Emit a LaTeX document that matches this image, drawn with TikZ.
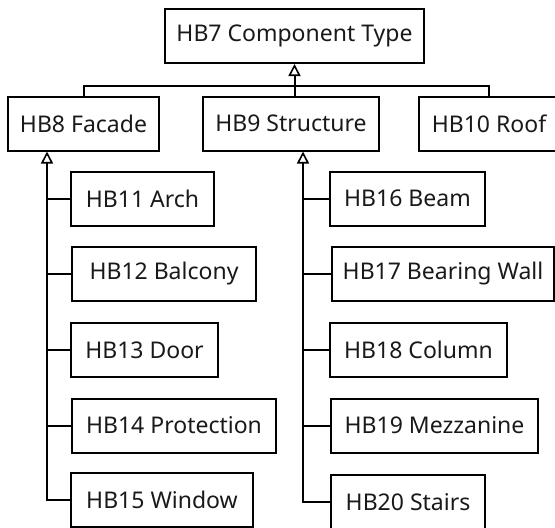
\documentclass[tikz,border=0pt]{standalone}
\usepackage{fontspec}
\setmainfont{Noto Sans}
\usetikzlibrary{arrows.meta}

\begin{document}
\begin{tikzpicture}[x=1pt,y=-1pt,
  cls/.style={draw, line width=2pt, minimum height=54pt, inner sep=0pt, text=black!90, font=\fontsize{23}{27}\selectfont},
  link/.style={line width=2pt},
  gen/.style={line width=2pt, -{Triangle[open,length=12pt,width=12pt,line width=1.6pt]}}]
\useasboundingbox (0,0) rectangle (555,528);
\clip (0,0) rectangle (555,528);
\node[cls, minimum width=259pt] (type) at (294.5,36) {HB7 Component Type};
\node[cls, minimum width=151pt] (facade) at (83.5,123.5) {HB8 Facade};
\node[cls, minimum width=176pt] (structure) at (291,123.5) {HB9 Structure};
\node[cls, minimum width=140pt] (roof) at (489,123.5) {HB10 Roof};
\node[cls, anchor=west, minimum width=143pt] (arch) at (70,199) {HB11 Arch};
\node[cls, anchor=west, minimum width=184pt] (balcony) at (71,274) {HB12 Balcony};
\node[cls, anchor=west, minimum width=147pt] (door) at (70,350) {HB13 Door};
\node[cls, anchor=west, minimum width=204pt] (protection) at (71,425.5) {HB14 Protection};
\node[cls, anchor=west, minimum width=182pt] (window) at (70,500) {HB15 Window};
\node[cls, anchor=west, minimum width=155pt] (beam) at (329,198.5) {HB16 Beam};
\node[cls, anchor=west, minimum width=222pt] (wall) at (331,274) {HB17 Bearing Wall};
\node[cls, anchor=west, minimum width=177pt] (column) at (329,350) {HB18 Column};
\node[cls, anchor=west, minimum width=207pt] (mezzanine) at (330,425.5) {HB19 Mezzanine};
\node[cls, anchor=west, minimum width=154pt] (stairs) at (330,502) {HB20 Stairs};
\coordinate (bar) at ([yshift=-22pt]type.south);
\draw[link] (facade.north) |- (bar) -| (roof.north);
\draw[link] (structure.north -| bar) -- (bar);
\draw[gen] (bar) -- (type.south);
\coordinate (fspine) at ([xshift=-36.5pt]facade.south);
\draw[gen] (window.west) -| (fspine);
\draw[link] (arch.west) -- (arch.west -| fspine);
\draw[link] (balcony.west) -- (balcony.west -| fspine);
\draw[link] (door.west) -- (door.west -| fspine);
\draw[link] (protection.west) -- (protection.west -| fspine);
\coordinate (sspine) at ([xshift=12pt]structure.south);
\draw[gen] (stairs.west) -| (sspine);
\draw[link] (beam.west) -- (beam.west -| sspine);
\draw[link] (wall.west) -- (wall.west -| sspine);
\draw[link] (column.west) -- (column.west -| sspine);
\draw[link] (mezzanine.west) -- (mezzanine.west -| sspine);
\end{tikzpicture}
\end{document}
